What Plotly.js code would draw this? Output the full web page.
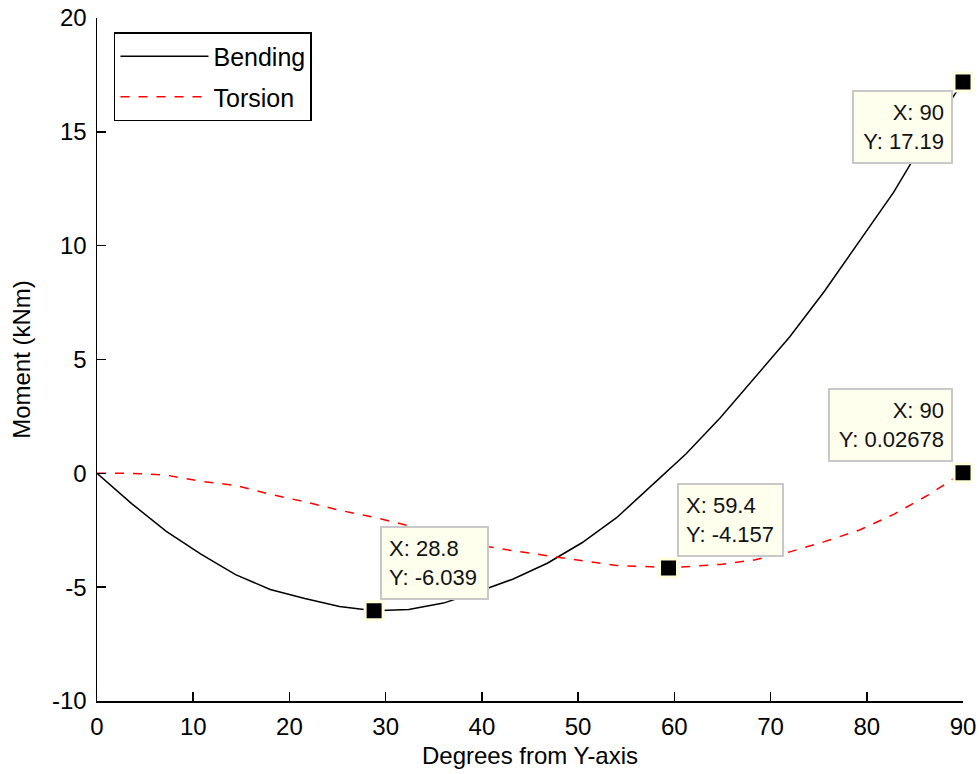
<!DOCTYPE html>
<html>
<head>
<meta charset="utf-8">
<script src="https://cdn.plot.ly/plotly-3.0.1.min.js"></script>
<style>html,body{margin:0;padding:0;background:#fff;}#chart{width:979px;height:774px;}</style>
</head>
<body>
<div id="chart"></div>
<script>
// Bending moment (kNm) vs degrees from Y-axis
const bendX = [0, 3.6, 7.2, 10.8, 14.4, 18, 21.6, 25.2, 28.8, 32.4, 36, 39.6, 43.2, 46.8, 50.4, 54, 57.6, 61.2, 64.8, 68.4, 72, 75.6, 79.2, 82.8, 86.4, 90];
const bendY = [0, -1.33, -2.55, -3.55, -4.45, -5.1, -5.5, -5.85, -6.039, -5.98, -5.7, -5.2, -4.65, -3.95, -3.05, -1.95, -0.55, 0.85, 2.45, 4.2, 6.0, 8.0, 10.2, 12.35, 14.9, 17.19];
// Torsion moment (kNm)
const torsX = [0, 3.6, 7.2, 10.8, 14.4, 18, 21.6, 25.2, 28.8, 32.4, 36, 39.6, 43.2, 46.8, 50.4, 54, 57.6, 59.4, 61.2, 64.8, 68.4, 72, 75.6, 79.2, 82.8, 86.4, 90];
const torsY = [0, 0, -0.08, -0.35, -0.53, -0.92, -1.25, -1.62, -1.93, -2.3, -2.75, -3.15, -3.4, -3.62, -3.85, -4.05, -4.1, -4.157, -4.1, -4.0, -3.8, -3.45, -3.0, -2.5, -1.8, -0.95, 0.02678];
// Data tips: [series, x value]
const tipSeries = ['bend', 'tors', 'tors', 'bend'];
const tipX = [28.8, 59.4, 90, 90];
const tipLabelX = ['28.8', '59.4', '90', '90'];
const tipLabelY = ['-6.039', '-4.157', '0.02678', '17.19'];
// Axis ticks
const xTicks = [0, 10, 20, 30, 40, 50, 60, 70, 80, 90];
const yTicks = [-10, -5, 0, 5, 10, 15, 20];
const yTickText = ['-10', '-5', '0', '5', '10', '15', '20'];

const FONT = 'Liberation Sans, Arial, sans-serif';

function lookup(series, x) {
  const xs = series === 'bend' ? bendX : torsX;
  const ys = series === 'bend' ? bendY : torsY;
  return ys[xs.indexOf(x)];
}
const tipY = tipX.map((x, i) => lookup(tipSeries[i], x));

const traces = [
  {x: bendX, y: bendY, mode: 'lines', name: 'Bending', legendgroup: 'a', line: {color: 'black', width: 1.5}},
  {x: torsX, y: torsY, mode: 'lines', name: 'Torsion', legendgroup: 'b', line: {color: 'red', width: 1.5, dash: 'dash'}},
  {x: tipX, y: tipY, mode: 'markers', showlegend: false, cliponaxis: false, hoverinfo: 'skip',
   marker: {symbol: 'square', size: 18, color: 'black', line: {color: '#ffffe0', width: 3}}}
];

// callout styles: [xanchor, yanchor, xshift, yshift, align, width]
const calloutStyle = [
  ['left', 'bottom', 6, 11, 'left', 91],
  ['left', 'bottom', 8, 11, 'left', 89],
  ['right', 'bottom', -10, 11, 'right', 107],
  ['right', 'top', -10, -8, 'right', 83]
];
const annotations = tipX.map((x, i) => {
  const s = calloutStyle[i];
  return {
    x: x, y: tipY[i], xref: 'x', yref: 'y', showarrow: false,
    text: 'X: ' + tipLabelX[i] + '<br>Y: ' + tipLabelY[i],
    xanchor: s[0], yanchor: s[1], xshift: s[2], yshift: s[3], align: s[4],
    width: s[5], height: 56, valign: 'middle',
    bgcolor: '#ffffee', bordercolor: '#c8c8c8', borderwidth: 2, borderpad: 7,
    font: {family: FONT, size: 22, color: '#111'}
  };
});

const layout = {
  width: 979, height: 774,
  margin: {l: 97, r: 16, t: 18, b: 73},
  paper_bgcolor: 'white', plot_bgcolor: 'white',
  font: {family: FONT, size: 24, color: 'black'},
  showlegend: true,
  legend: {x: 0.0196, y: 0.9795, xanchor: 'left', yanchor: 'top',
           bgcolor: 'white', bordercolor: 'black', borderwidth: 1.5,
           font: {family: FONT, size: 25}, itemwidth: 88, tracegroupgap: 5},
  xaxis: {range: [0, 90], tickvals: xTicks, ticks: 'inside', ticklen: 9, tickwidth: 1.5, tickcolor: 'black',
          showline: true, linecolor: 'black', linewidth: 1.5, showgrid: false, zeroline: false,
          ticklabelstandoff: 4,
          tickfont: {family: FONT, size: 24},
          title: {text: 'Degrees from Y-axis', font: {family: FONT, size: 24}, standoff: 8}},
  yaxis: {range: [-10, 20], tickvals: yTicks, ticktext: yTickText, ticks: 'inside', ticklen: 9, tickwidth: 1.5, tickcolor: 'black',
          showline: true, linecolor: 'black', linewidth: 1.5, showgrid: false, zeroline: false,
          ticklabelstandoff: 4,
          tickfont: {family: FONT, size: 24},
          title: {text: 'Moment (kNm)', font: {family: FONT, size: 24}, standoff: 14}},
  annotations: annotations
};

Plotly.newPlot('chart', traces, layout, {displayModeBar: false, staticPlot: true});
</script>
</body>
</html>
